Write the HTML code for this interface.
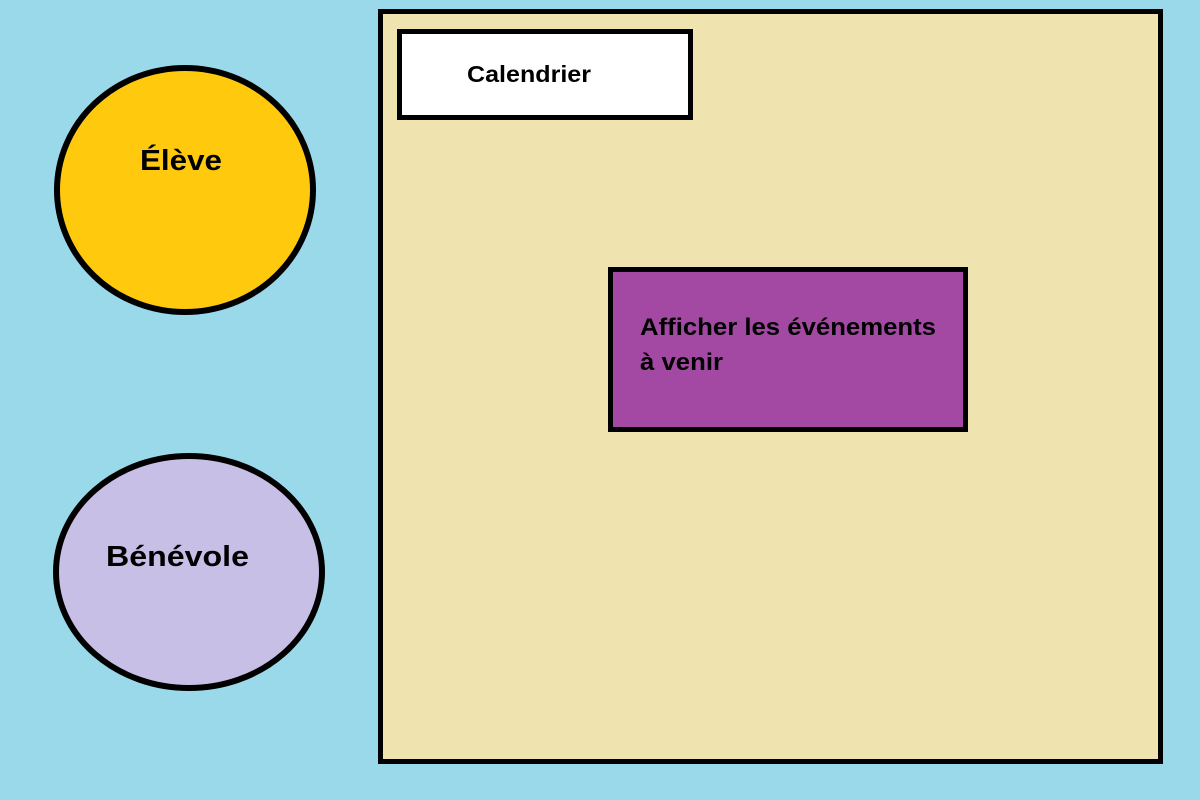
<!DOCTYPE html>
<html><head><meta charset="utf-8"><style>
html,body{margin:0;padding:0;background:#99d9ea;width:1200px;height:800px;overflow:hidden}
</style></head><body>
<svg width="1200" height="800" xmlns="http://www.w3.org/2000/svg" style="display:block">
<rect x="0" y="0" width="1200" height="800" fill="#99d9ea"/>
<rect x="380.5" y="11.5" width="780" height="750" fill="#efe4b0" stroke="#000" stroke-width="5"/>
<rect x="399.5" y="31.5" width="291" height="86" fill="#fff" stroke="#000" stroke-width="5"/>
<rect x="610.5" y="269.5" width="355" height="160" fill="#a349a4" stroke="#000" stroke-width="5"/>
<ellipse cx="185" cy="190" rx="128" ry="122" fill="#ffc90e" stroke="#000" stroke-width="6"/>
<ellipse cx="189" cy="572" rx="133" ry="116" fill="#c8bfe7" stroke="#000" stroke-width="6"/>
<g font-family="Liberation Sans, sans-serif" font-weight="bold" fill="#000">
<text x="467" y="82" font-size="23" textLength="124" lengthAdjust="spacingAndGlyphs">Calendrier</text>
<text x="640" y="335" font-size="24" textLength="296" lengthAdjust="spacingAndGlyphs">Afficher les événements</text>
<text x="640" y="370" font-size="24" textLength="83" lengthAdjust="spacingAndGlyphs">à venir</text>
<text x="140" y="170" font-size="29" textLength="82" lengthAdjust="spacingAndGlyphs">Élève</text>
<text x="106" y="566" font-size="29" textLength="143" lengthAdjust="spacingAndGlyphs">Bénévole</text>
</g>
</svg>
</body></html>
